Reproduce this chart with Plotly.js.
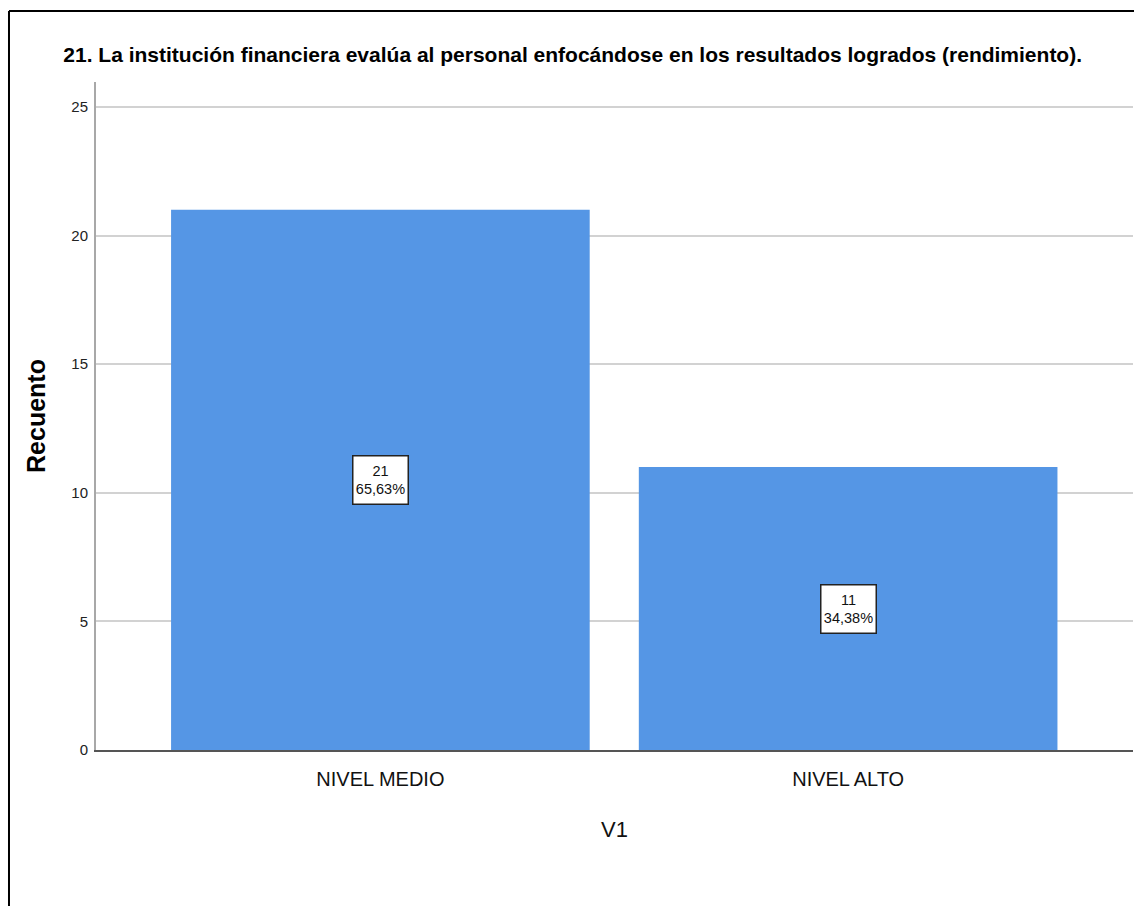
<!DOCTYPE html>
<html>
<head>
<meta charset="utf-8">
<script src="https://cdn.plot.ly/plotly-3.0.1.min.js"></script>
<style>
  html, body { margin: 0; padding: 0; background: #fff; }
  #chart { width: 1134px; height: 906px; }
</style>
</head>
<body>
<div id="chart"></div>
<script>
const categories = ["NIVEL MEDIO", "NIVEL ALTO"];
const counts = [21, 11];
const percents = ["65,63%", "34,38%"];
const yTicks = [0, 5, 10, 15, 20, 25];

const sans = "'Liberation Sans', Arial, sans-serif";

const trace = {
  type: "bar",
  x: categories,
  y: counts,
  width: 0.895,
  marker: { color: "#5596e5", line: { width: 0 } },
  hoverinfo: "skip"
};

const annotations = categories.map((c, i) => ({
  x: c, y: counts[i] / 2, xref: "x", yref: "y",
  text: counts[i] + "<br>" + percents[i],
  showarrow: false,
  font: { family: sans, size: 14.5, color: "#111" },
  width: 50, height: 43,
  bgcolor: "#ffffff",
  bordercolor: "#222",
  borderwidth: 1.5,
  borderpad: 2
}));

const shapes = [
  { type: "line", xref: "paper", yref: "paper", x0: -0.0839, x1: -0.0839, y0: -0.24, y1: 1.1063, line: { color: "#000", width: 2 } },
  { type: "line", xref: "paper", yref: "paper", x0: -0.0839, x1: 1.01, y0: 1.1063, y1: 1.1063, line: { color: "#000", width: 2 } }
];

const layout = {
  width: 1134, height: 906,
  margin: { l: 96, r: 1, t: 82, b: 156 },
  paper_bgcolor: "#fff", plot_bgcolor: "#fff",
  showlegend: false,
  title: {
    text: "<b>21. La institución financiera evalúa al personal enfocándose en los resultados logrados (rendimiento).</b>",
    font: { family: sans, size: 21, color: "#000" },
    xref: "container", yref: "container",
    x: 0.505, xanchor: "center",
    y: 1 - 55 / 906, yanchor: "middle"
  },
  xaxis: {
    type: "category",
    range: [-0.608, 1.609],
    showgrid: false,
    showline: true, linecolor: "#555", linewidth: 2,
    ticks: "", ticklen: 0,
    ticklabelstandoff: 10,
    tickfont: { family: sans, size: 20, color: "#111" },
    title: { text: "V1", font: { family: sans, size: 22, color: "#111" }, standoff: 33 },
    fixedrange: true
  },
  yaxis: {
    range: [0, 25.97],
    tickvals: yTicks,
    ticktext: yTicks.map(String),
    showgrid: true, gridcolor: "#d2d2d2", gridwidth: 2,
    zeroline: false,
    showline: true, linecolor: "#a8a8a8", linewidth: 2,
    ticks: "",
    ticklabelstandoff: 3,
    tickfont: { family: sans, size: 15, color: "#222" },
    title: { text: "<b>Recuento</b>", font: { family: sans, size: 25, color: "#000" }, standoff: 19 },
    fixedrange: true
  },
  annotations: annotations,
  shapes: shapes
};

Plotly.newPlot("chart", [trace], layout, { displayModeBar: false, staticPlot: true });
</script>
</body>
</html>
